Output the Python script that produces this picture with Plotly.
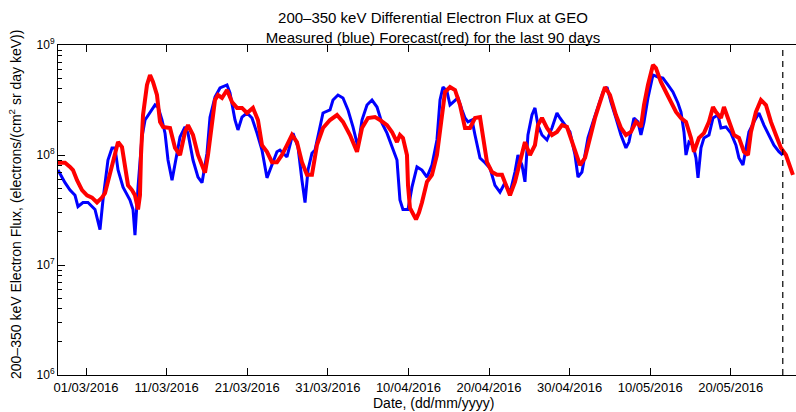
import datetime as dt
import plotly.graph_objects as go

# Time axis origin; sample times are stored as fractional days after it
START = dt.datetime(2016, 2, 26)

# Measured 200-350 keV electron flux at GEO
meas_day = [0.52, 1.39, 2.01, 2.63, 3.00, 3.62, 4.24, 4.74, 5.11, 5.73, 6.10, 6.72, 7.22, 7.59, 7.97,
            8.59, 9.45, 9.83, 10.07, 10.45, 10.94, 11.32, 11.94, 12.56, 12.93, 13.42, 13.80, 14.17,
            14.67, 15.04, 15.66, 16.28, 16.65, 17.27, 17.89, 18.39, 19.01, 19.38, 20.00, 20.62,
            21.49, 21.86, 22.48, 22.85, 23.35, 23.97, 24.59, 25.21, 25.83, 26.45, 26.82, 27.69,
            28.06, 28.44, 28.93, 29.68, 30.30, 30.79, 31.17, 31.54, 32.03, 32.41, 33.03, 33.40,
            34.27, 34.64, 35.26, 35.88, 36.50, 37.12, 37.74, 38.24, 38.86, 39.48, 40.10, 40.72,
            41.34, 41.96, 42.58, 42.95, 43.32, 43.95, 44.44, 45.06, 45.68, 46.30, 46.92, 47.54,
            47.92, 48.29, 48.78, 49.16, 49.53, 50.15, 50.65, 51.02, 51.39, 51.89, 52.26, 52.88,
            53.50, 54.12, 54.74, 55.36, 55.98, 56.60, 57.22, 57.59, 58.09, 58.46, 58.83, 59.33,
            59.70, 60.07, 60.57, 61.19, 61.81, 62.43, 62.80, 63.42, 64.04, 64.67, 65.04, 65.53,
            65.91, 66.28, 66.90, 67.52, 68.14, 68.64, 69.13, 69.75, 70.37, 70.99, 71.36, 71.98,
            72.48, 72.85, 73.23, 73.72, 74.34, 74.96, 75.58, 76.20, 76.82, 77.44, 77.82, 78.19,
            78.44, 78.81, 79.31, 79.68, 79.93, 80.30, 80.67, 81.29, 81.79, 82.41, 82.78, 83.40,
            84.02, 84.64, 85.01, 85.51, 85.88, 86.25, 86.87, 87.49, 88.11, 88.73, 89.35, 89.97,
            90.45]
meas_flux = [7.3e7, 5.6e7, 4.8e7, 4.3e7, 3.4e7, 3.7e7, 3.7e7, 3.4e7, 3.2e7, 2.1e7, 3.9e7, 9.0e7,
             1.16e8, 1.16e8, 7.3e7, 5.1e7, 3.9e7, 3.2e7, 1.87e7, 5.1e7, 1.46e8, 2.08e8, 2.41e8,
             2.85e8, 2.73e8, 2.08e8, 1.58e8, 9.0e7, 5.9e7, 8.5e7, 1.46e8, 1.80e8, 1.58e8, 9.0e7,
             6.3e7, 5.6e7, 1.04e8, 2.21e8, 3.37e8, 4.07e8, 4.33e8, 3.66e8, 2.08e8, 1.69e8, 2.21e8,
             2.41e8, 2.17e8, 1.58e8, 1.11e8, 6.2e7, 7.3e7, 1.07e8, 1.11e8, 1.04e8, 9.6e7, 1.58e8,
             1.18e8, 5.9e7, 3.7e7, 7.3e7, 1.04e8, 1.11e8, 1.80e8, 2.41e8, 2.57e8, 3.16e8, 3.51e8,
             3.30e8, 2.57e8, 1.80e8, 1.18e8, 2.08e8, 2.85e8, 3.16e8, 2.73e8, 1.95e8, 1.58e8,
             1.18e8, 9.0e7, 3.9e7, 3.2e7, 3.2e7, 5.1e7, 7.8e7, 7.3e7, 6.3e7, 8.1e7, 1.37e8, 3.16e8,
             4.15e8, 3.8e8, 2.85e8, 3.03e8, 3.30e8, 2.57e8, 2.17e8, 2.00e8, 2.08e8, 1.52e8, 9.4e7,
             8.5e7, 7.6e7, 5.3e7, 4.6e7, 5.6e7, 4.5e7, 7.0e7, 1.00e8, 8.1e7, 5.7e7, 1.52e8, 2.31e8,
             2.68e8, 1.87e8, 1.52e8, 1.37e8, 1.76e8, 2.41e8, 2.17e8, 1.87e8, 1.62e8, 1.00e8, 6.3e7,
             7.0e7, 1.00e8, 1.43e8, 2.00e8, 2.68e8, 3.74e8, 4.15e8, 3.03e8, 2.17e8, 1.52e8, 1.16e8,
             1.31e8, 2.17e8, 2.00e8, 1.52e8, 2.00e8, 3.30e8, 5.34e8, 5.12e8, 5.01e8, 4.33e8,
             3.74e8, 2.97e8, 2.46e8, 1.62e8, 1.00e8, 1.31e8, 1.23e8, 9.4e7, 6.2e7, 1.16e8, 1.43e8,
             1.52e8, 2.17e8, 2.31e8, 1.76e8, 1.80e8, 1.58e8, 1.23e8, 9.4e7, 8.1e7, 1.16e8, 1.62e8,
             2.00e8, 2.41e8, 1.87e8, 1.52e8, 1.23e8, 1.07e8, 1.00e8]

# Forecast flux (runs slightly past the last measurement)
fcst_day = [0.52, 1.39, 2.01, 2.38, 2.88, 3.50, 4.12, 4.74, 5.36, 5.98, 6.35, 6.97, 7.59, 7.97,
            8.46, 8.83, 9.21, 9.70, 10.07, 10.45, 10.69, 10.82, 11.07, 11.56, 11.94, 12.31, 12.80,
            13.18, 13.55, 14.42, 15.04, 15.66, 16.28, 16.65, 17.27, 17.89, 18.76, 19.13, 19.63,
            20.00, 20.37, 20.87, 21.49, 22.11, 22.73, 23.35, 23.97, 24.71, 25.33, 25.83, 26.45,
            27.07, 27.69, 28.31, 28.93, 29.55, 30.17, 30.79, 31.41, 32.03, 32.65, 33.40, 34.27,
            35.14, 35.88, 36.75, 37.62, 38.24, 38.98, 39.85, 40.47, 41.34, 41.96, 42.58, 42.95,
            43.32, 43.82, 43.95, 44.19, 44.57, 44.94, 45.31, 45.68, 46.30, 46.92, 47.54, 48.16,
            48.54, 49.16, 49.78, 50.40, 51.02, 51.64, 52.26, 52.88, 53.25, 53.75, 54.37, 54.99,
            55.61, 56.23, 56.60, 57.22, 57.84, 58.46, 59.08, 59.70, 60.07, 60.57, 61.19, 61.81,
            62.43, 63.05, 63.67, 64.29, 64.91, 65.29, 65.91, 66.53, 67.15, 67.77, 68.39, 69.01,
            69.75, 70.37, 70.99, 71.61, 72.23, 72.85, 73.23, 73.72, 74.34, 74.71, 75.33, 75.95,
            76.58, 77.20, 77.82, 78.44, 79.06, 79.43, 80.05, 80.67, 81.29, 81.79, 82.16, 82.78,
            83.15, 83.77, 84.39, 85.01, 85.63, 86.13, 86.50, 87.12, 87.74, 88.36, 88.98, 89.60,
            90.22, 90.84, 91.46, 91.71]
fcst_flux = [8.5e7, 8.5e7, 7.8e7, 7.3e7, 5.9e7, 4.8e7, 4.3e7, 4.1e7, 3.7e7, 4.1e7, 4.5e7, 6.6e7,
             1.00e8, 1.31e8, 1.18e8, 8.1e7, 5.3e7, 4.8e7, 4.3e7, 3.2e7, 4.3e7, 1.00e8, 2.31e8,
             4.33e8, 5.34e8, 4.61e8, 3.51e8, 2.00e8, 1.80e8, 1.76e8, 1.16e8, 1.00e8, 1.62e8,
             1.87e8, 1.52e8, 1.00e8, 6.9e7, 1.00e8, 2.00e8, 3.16e8, 3.51e8, 3.30e8, 3.90e8,
             3.03e8, 2.68e8, 2.68e8, 2.41e8, 2.68e8, 2.08e8, 1.23e8, 1.07e8, 8.6e7, 8.6e7, 1.00e8,
             1.23e8, 1.52e8, 1.31e8, 8.6e7, 6.6e7, 6.6e7, 1.23e8, 1.76e8, 2.08e8, 2.31e8, 2.00e8,
             1.52e8, 1.07e8, 1.76e8, 2.17e8, 2.21e8, 2.08e8, 1.87e8, 1.62e8, 1.31e8, 1.52e8,
             1.43e8, 1.00e8, 5.3e7, 3.3e7, 2.9e7, 2.6e7, 3.0e7, 3.7e7, 5.7e7, 6.6e7, 1.00e8,
             2.31e8, 3.74e8, 4.15e8, 3.90e8, 2.85e8, 1.76e8, 1.76e8, 2.17e8, 2.21e8, 1.43e8, 8.6e7,
             7.0e7, 6.6e7, 6.6e7, 5.0e7, 4.3e7, 5.7e7, 8.6e7, 1.31e8, 1.00e8, 1.23e8, 1.87e8,
             2.17e8, 1.76e8, 1.52e8, 1.62e8, 1.87e8, 1.80e8, 1.31e8, 9.4e7, 8.1e7, 9.4e7, 1.43e8,
             2.17e8, 3.03e8, 4.15e8, 3.51e8, 2.31e8, 1.76e8, 1.52e8, 1.62e8, 2.00e8, 1.80e8,
             2.85e8, 4.33e8, 6.58e8, 6.18e8, 4.61e8, 3.74e8, 3.03e8, 2.46e8, 2.17e8, 2.00e8,
             1.43e8, 1.07e8, 1.43e8, 1.58e8, 2.00e8, 2.73e8, 2.46e8, 2.17e8, 2.73e8, 2.00e8,
             1.52e8, 1.43e8, 1.07e8, 1.00e8, 1.62e8, 2.46e8, 3.16e8, 2.85e8, 2.00e8, 1.52e8,
             1.16e8, 1.00e8, 7.6e7, 6.6e7]

# Date ticks every 10 days
tick_dates = ["2016-03-01", "2016-03-11", "2016-03-21", "2016-03-31", "2016-04-10",
              "2016-04-20", "2016-04-30", "2016-05-10", "2016-05-20"]
tick_text = ["01/03/2016", "11/03/2016", "21/03/2016", "31/03/2016", "10/04/2016",
             "20/04/2016", "30/04/2016", "10/05/2016", "20/05/2016"]

# Decade ticks on the flux axis
flux_ticks = [1e6, 1e7, 1e8, 1e9]
flux_tick_text = ["10<sup>6</sup>", "10<sup>7</sup>", "10<sup>8</sup>", "10<sup>9</sup>"]


def to_time(days):
    return [START + dt.timedelta(days=d) for d in days]


meas_t = to_time(meas_day)
fcst_t = to_time(fcst_day)
now_t = meas_t[-1]

FONT = "Liberation Sans, Arial, sans-serif"

fig = go.Figure()
fig.add_trace(go.Scatter(x=meas_t, y=meas_flux, mode="lines",
                         line=dict(color="#0000ff", width=3), name="Measured"))
fig.add_trace(go.Scatter(x=fcst_t, y=fcst_flux, mode="lines",
                         line=dict(color="#ff0000", width=4), name="Forecast"))

# Dashed marker at the time of the latest measurement
fig.add_shape(type="line", xref="x", yref="paper", x0=now_t, x1=now_t, y0=0, y1=1,
              line=dict(color="black", width=1.2, dash="6px,5px"))

minor_vals = [k * 10 ** e for e in (6, 7, 8) for k in range(2, 10)]

plot_l, plot_w = 58, 738
fig.update_layout(
    width=796, height=412,
    margin=dict(l=plot_l, r=0, t=45, b=37),
    paper_bgcolor="white", plot_bgcolor="white",
    showlegend=False,
    font=dict(family=FONT, color="black", size=12),
    title=dict(
        text="200\u2013350 keV Differential Electron Flux at GEO<br>"
             "Measured (blue) Forecast(red) for the last 90 days",
        x=(433 - plot_l) / plot_w, xref="paper", xanchor="center",
        y=1 - 23 / 412, yref="container", yanchor="middle",
        font=dict(family=FONT, size=15, color="black"),
    ),
    xaxis=dict(
        type="date",
        range=[START + dt.timedelta(days=0.52), START + dt.timedelta(days=92.09)],
        tickmode="array", tickvals=tick_dates, ticktext=tick_text,
        ticks="inside", ticklen=7, tickwidth=1, tickcolor="black",
        showline=True, linecolor="black", linewidth=1, mirror="ticks",
        showgrid=False, zeroline=False,
        tickfont=dict(family=FONT, size=13, color="black"),
    ),
    yaxis=dict(
        type="log", range=[6, 9],
        tickmode="array", tickvals=flux_ticks, ticktext=flux_tick_text,
        ticks="inside", ticklen=7, tickwidth=1, tickcolor="black",
        minor=dict(tickmode="array", tickvals=minor_vals, ticks="inside",
                   ticklen=4, tickwidth=1, tickcolor="black", showgrid=False),
        showline=True, linecolor="black", linewidth=1,
        showgrid=False, zeroline=False,
        tickfont=dict(family=FONT, size=12, color="black"),
    ),
    annotations=[
        dict(text="Date, (dd/mm/yyyy)", xref="paper", yref="paper",
             x=(433 - plot_l) / plot_w, y=-(403 - 375) / 330,
             xanchor="center", yanchor="middle", showarrow=False,
             font=dict(family=FONT, size=14, color="black")),
        dict(text="200\u2013350 keV Electron Flux, (electrons/(cm<sup>2</sup> sr day keV))",
             xref="paper", yref="paper",
             x=-(plot_l - 15) / plot_w, y=(375 - 205) / 330,
             xanchor="center", yanchor="middle", textangle=-90, showarrow=False,
             font=dict(family=FONT, size=14, color="black")),
    ],
)

fig.write_html("out.html")
